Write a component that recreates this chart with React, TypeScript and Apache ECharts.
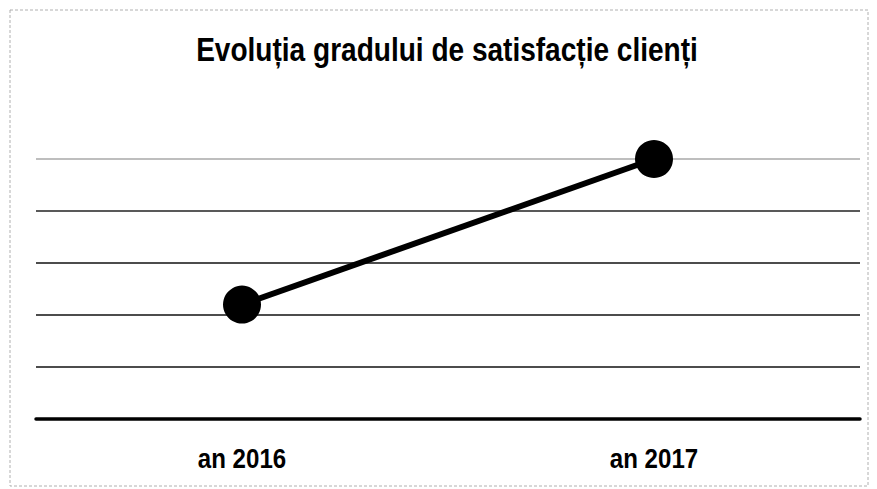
import React, { useEffect, useRef } from "react";
import * as echarts from "echarts";

const categories = ["an 2016", "an 2017"];
const satisfaction = [2.2, 5];
const yTicks = [0, 1, 2, 3, 4, 5];
const titleText = "Evoluția gradului de satisfacție clienți";

const FONT = "'Liberation Sans Narrow', 'Arial Narrow', 'Liberation Sans', Arial, sans-serif";

export default function App() {
  const ref = useRef<HTMLDivElement>(null);
  useEffect(() => {
    if (!ref.current) return;
    const chart = echarts.init(ref.current, undefined, { renderer: "svg" });
    const baseGraphic: any[] = [
      {
        type: "rect",
        shape: { x: 10, y: 10, width: 858, height: 476 },
        style: { fill: "none", stroke: "#b0b0b0", lineWidth: 1, lineDash: [3, 2] },
        silent: true,
      },
      {
        type: "text",
        x: 447,
        y: 33,
        scaleX: 0.85,
        style: {
          text: titleText,
          x: 0,
          y: 0,
          textAlign: "center",
          textVerticalAlign: "top",
          fontFamily: FONT,
          fontWeight: "bold",
          fontSize: 33,
          fill: "#000",
        },
        silent: true,
      },
    ];
    chart.setOption({
      animation: false,
      backgroundColor: "#ffffff",
      graphic: baseGraphic,
      grid: { left: 36, right: 17, top: 159, bottom: 70, containLabel: false },
      xAxis: {
        type: "category",
        data: categories,
        boundaryGap: true,
        axisLine: { show: true, lineStyle: { color: "#000", width: 3.5 } },
        axisTick: { show: false },
        axisLabel: { show: false },
      },
      yAxis: {
        type: "value",
        min: yTicks[0],
        max: yTicks[yTicks.length - 1],
        interval: 1,
        axisLine: { show: false },
        axisTick: { show: false },
        axisLabel: { show: false },
        splitLine: {
          show: true,
          lineStyle: {
            color: ["#000", "#111", "#111", "#111", "#222", "#a8a8a8"],
            width: 1.6,
          },
        },
      },
      series: [
        {
          type: "line",
          data: satisfaction,
          symbol: "circle",
          symbolSize: 38,
          lineStyle: { color: "#000", width: 6 },
          itemStyle: { color: "#000" },
          label: { show: false },
        },
      ],
    });
    const labelGraphics = categories.map((c, i) => {
      const p = chart.convertToPixel({ xAxisIndex: 0, yAxisIndex: 0 }, [i, yTicks[0]]) as number[];
      return {
        type: "text",
        x: p[0],
        y: p[1] + 25,
        scaleX: 0.86,
        style: {
          text: c,
          x: 0,
          y: 0,
          textAlign: "center",
          textVerticalAlign: "top",
          fontFamily: FONT,
          fontWeight: "bold",
          fontSize: 28,
          fill: "#000",
        },
        silent: true,
      };
    });
    chart.setOption({ graphic: [...baseGraphic, ...labelGraphics] });
    return () => chart.dispose();
  }, []);
  return (
    <div
      ref={ref}
      style={{ position: "fixed", left: 0, top: 0, width: 877, height: 489, background: "#fff" }}
    />
  );
}
